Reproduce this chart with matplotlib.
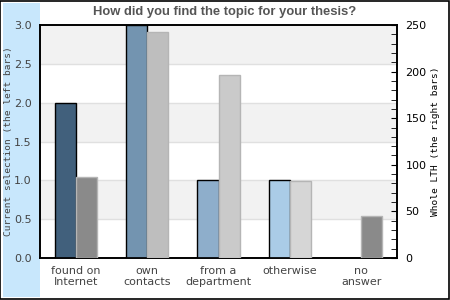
import matplotlib
matplotlib.use('Agg')
import matplotlib.pyplot as plt
import numpy as np
from matplotlib.patches import Rectangle

categorias = ['found on\nInternet', 'own\ncontacts', 'from a\ndepartment', 'otherwise', 'no\nanswer']
selecao_atual = [2, 3, 1, 1, 0]
lth_total = [87, 242, 196, 83, 45]

cores_esq = ['#41607c', '#7394b0', '#8eaecb', '#aacce7', '#aacce7']
cores_dir = ['#8a8a8a', '#bebebe', '#cacaca', '#d6d6d6', '#8a8a8a']

fig = plt.figure(figsize=(4.5, 3), dpi=100)
# faixa azul à esquerda e moldura
fig.patches.append(Rectangle((3 / 450, 3 / 300), 37 / 450, 294 / 300, transform=fig.transFigure,
                             facecolor='#c8e7fc', edgecolor='none', zorder=-5))
fig.patches.append(Rectangle((0.001, 0.002), 0.997, 0.995, transform=fig.transFigure,
                             facecolor='none', edgecolor='black', linewidth=1.2, zorder=5))

ax = fig.add_axes([40 / 450, 42 / 300, 357 / 450, 233 / 300])
ax2 = ax.twinx()
ax2.set_zorder(1)
ax2.patch.set_visible(False)

x = np.arange(len(categorias))
largura = 0.295

# faixas do fundo
for y0 in [0.5, 1.5, 2.5]:
    ax.axhspan(y0, y0 + 0.5, color='#f2f2f2', zorder=0, lw=0)
for y0 in np.arange(0.5, 3.0, 0.5):
    ax.axhline(y0, color='#e0e0e0', lw=1, zorder=0.5)

for i in range(len(categorias)):
    if selecao_atual[i] > 0:
        ax.bar(x[i] - largura / 2, selecao_atual[i], largura, color=cores_esq[i],
               edgecolor='black', linewidth=1, zorder=3)

ax2.bar(x + largura / 2, lth_total, largura, color=cores_dir, edgecolor='#b5b5b5',
        linewidth=1, zorder=3)

ax.set_xlim(-0.5, 4.5)
ax.set_ylim(0, 3.0)
ax2.set_ylim(0, 250)

ax.set_yticks(np.arange(0, 3.01, 0.5))
ax.set_yticklabels([f'{v:.1f}' for v in np.arange(0, 3.01, 0.5)])
ax.tick_params(axis='y', length=0, labelsize=8, labelcolor='#444444', pad=5.8)
ax.set_xticks(x)
ax.set_xticklabels(categorias, fontsize=8, color='#444444', linespacing=1.05)
ax.tick_params(axis='x', length=0, pad=6)

ax2.set_yticks(np.arange(0, 251, 50))
ax2.set_yticks(np.arange(0, 251, 10), minor=True)
ax2.tick_params(axis='y', which='both', direction='in', length=4, labelsize=8, pad=6)
ax2.tick_params(axis='y', which='minor', labelright=False)

for a in (ax, ax2):
    for s in a.spines.values():
        s.set_linewidth(1.2)

ax.set_ylabel('Current selection (the left bars)', family='DejaVu Sans Mono', fontsize=6.8,
              color='#444444')
ax.yaxis.set_label_coords(-26.5 / 357, 0.5)
ax2.set_ylabel('Whole LTH (the right bars)', family='DejaVu Sans Mono', fontsize=6.8, labelpad=3)

fig.text(0.5, 1 - 12 / 300, 'How did you find the topic for your thesis?', ha='center', va='center',
         fontsize=9.4, fontweight='bold', color='#555555', family='Liberation Sans')

fig.savefig('out.png', dpi=100)
